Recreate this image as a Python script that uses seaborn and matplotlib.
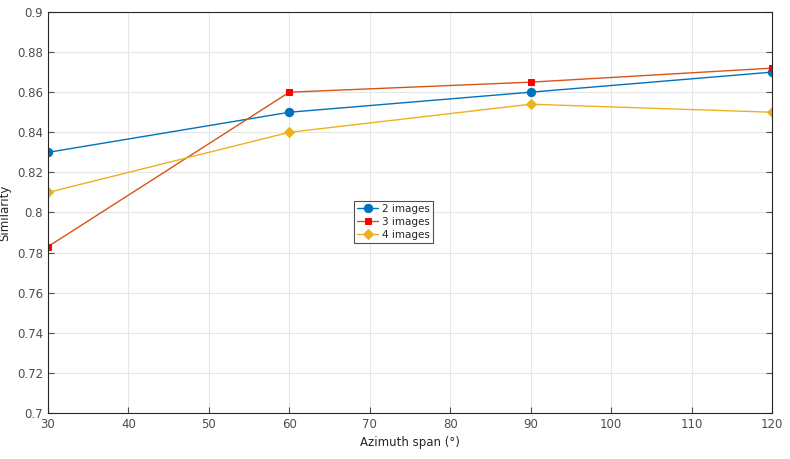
import matplotlib
matplotlib.use("Agg")
import matplotlib.pyplot as plt
import seaborn as sns

# Dados
azimuth = [30, 60, 90, 120]
sim_2 = [0.830, 0.850, 0.860, 0.870]
sim_3 = [0.783, 0.860, 0.865, 0.872]
sim_4 = [0.810, 0.840, 0.854, 0.850]
labels = ["2 images", "3 images", "4 images"]

sns.set_style("whitegrid")
plt.rcParams["font.family"] = ["DejaVu Sans"]
plt.rcParams["font.size"] = 8

fig = plt.figure(figsize=(7.9, 4.59), dpi=100)
ax = fig.add_axes([0.0608, 0.1002, 0.9165, 0.8737])

sns.lineplot(x=azimuth, y=sim_2, ax=ax, color="#0072BD", marker="o", markersize=6,
             markeredgecolor="#0072BD", linewidth=1, label=labels[0])
sns.lineplot(x=azimuth, y=sim_3, ax=ax, color="#D95319", marker="s", markersize=5,
             markerfacecolor="#FF0000", markeredgecolor="#FF0000", linewidth=1, label=labels[1])
sns.lineplot(x=azimuth, y=sim_4, ax=ax, color="#EDB120", marker="D", markersize=5,
             markeredgecolor="#EDB120", linewidth=1, label=labels[2])

ax.set_xlim(30, 120)
ax.set_ylim(0.7, 0.9)
ax.set_xticks(range(30, 121, 10))
ax.set_yticks([0.7, 0.72, 0.74, 0.76, 0.78, 0.8, 0.82, 0.84, 0.86, 0.88, 0.9])
ax.set_yticklabels(["0.7", "0.72", "0.74", "0.76", "0.78", "0.8", "0.82", "0.84", "0.86", "0.88", "0.9"])
ax.set_xlabel("Azimuth span (°)", fontsize=8.5, color="#262626")
ax.set_ylabel("Similarity", fontsize=8.5, color="#262626")
ax.tick_params(axis="both", labelsize=8.5, colors="#4d4d4d", direction="in", length=4,
               left=True, bottom=True, right=True, top=False)
ax.grid(True, color="#e6e6e6", linewidth=0.8)
for s in ax.spines.values():
    s.set_visible(True)
    s.set_color("#262626")
    s.set_linewidth(0.8)

leg = ax.legend(loc="upper left", bbox_to_anchor=(0.4155, 0.5425), fontsize=7.5,
                frameon=True, fancybox=False, edgecolor="#262626", handlelength=2.0,
                borderpad=0.3, labelspacing=0.3, handletextpad=0.4)
leg.get_frame().set_linewidth(0.8)

fig.savefig("out.png", dpi=100)
